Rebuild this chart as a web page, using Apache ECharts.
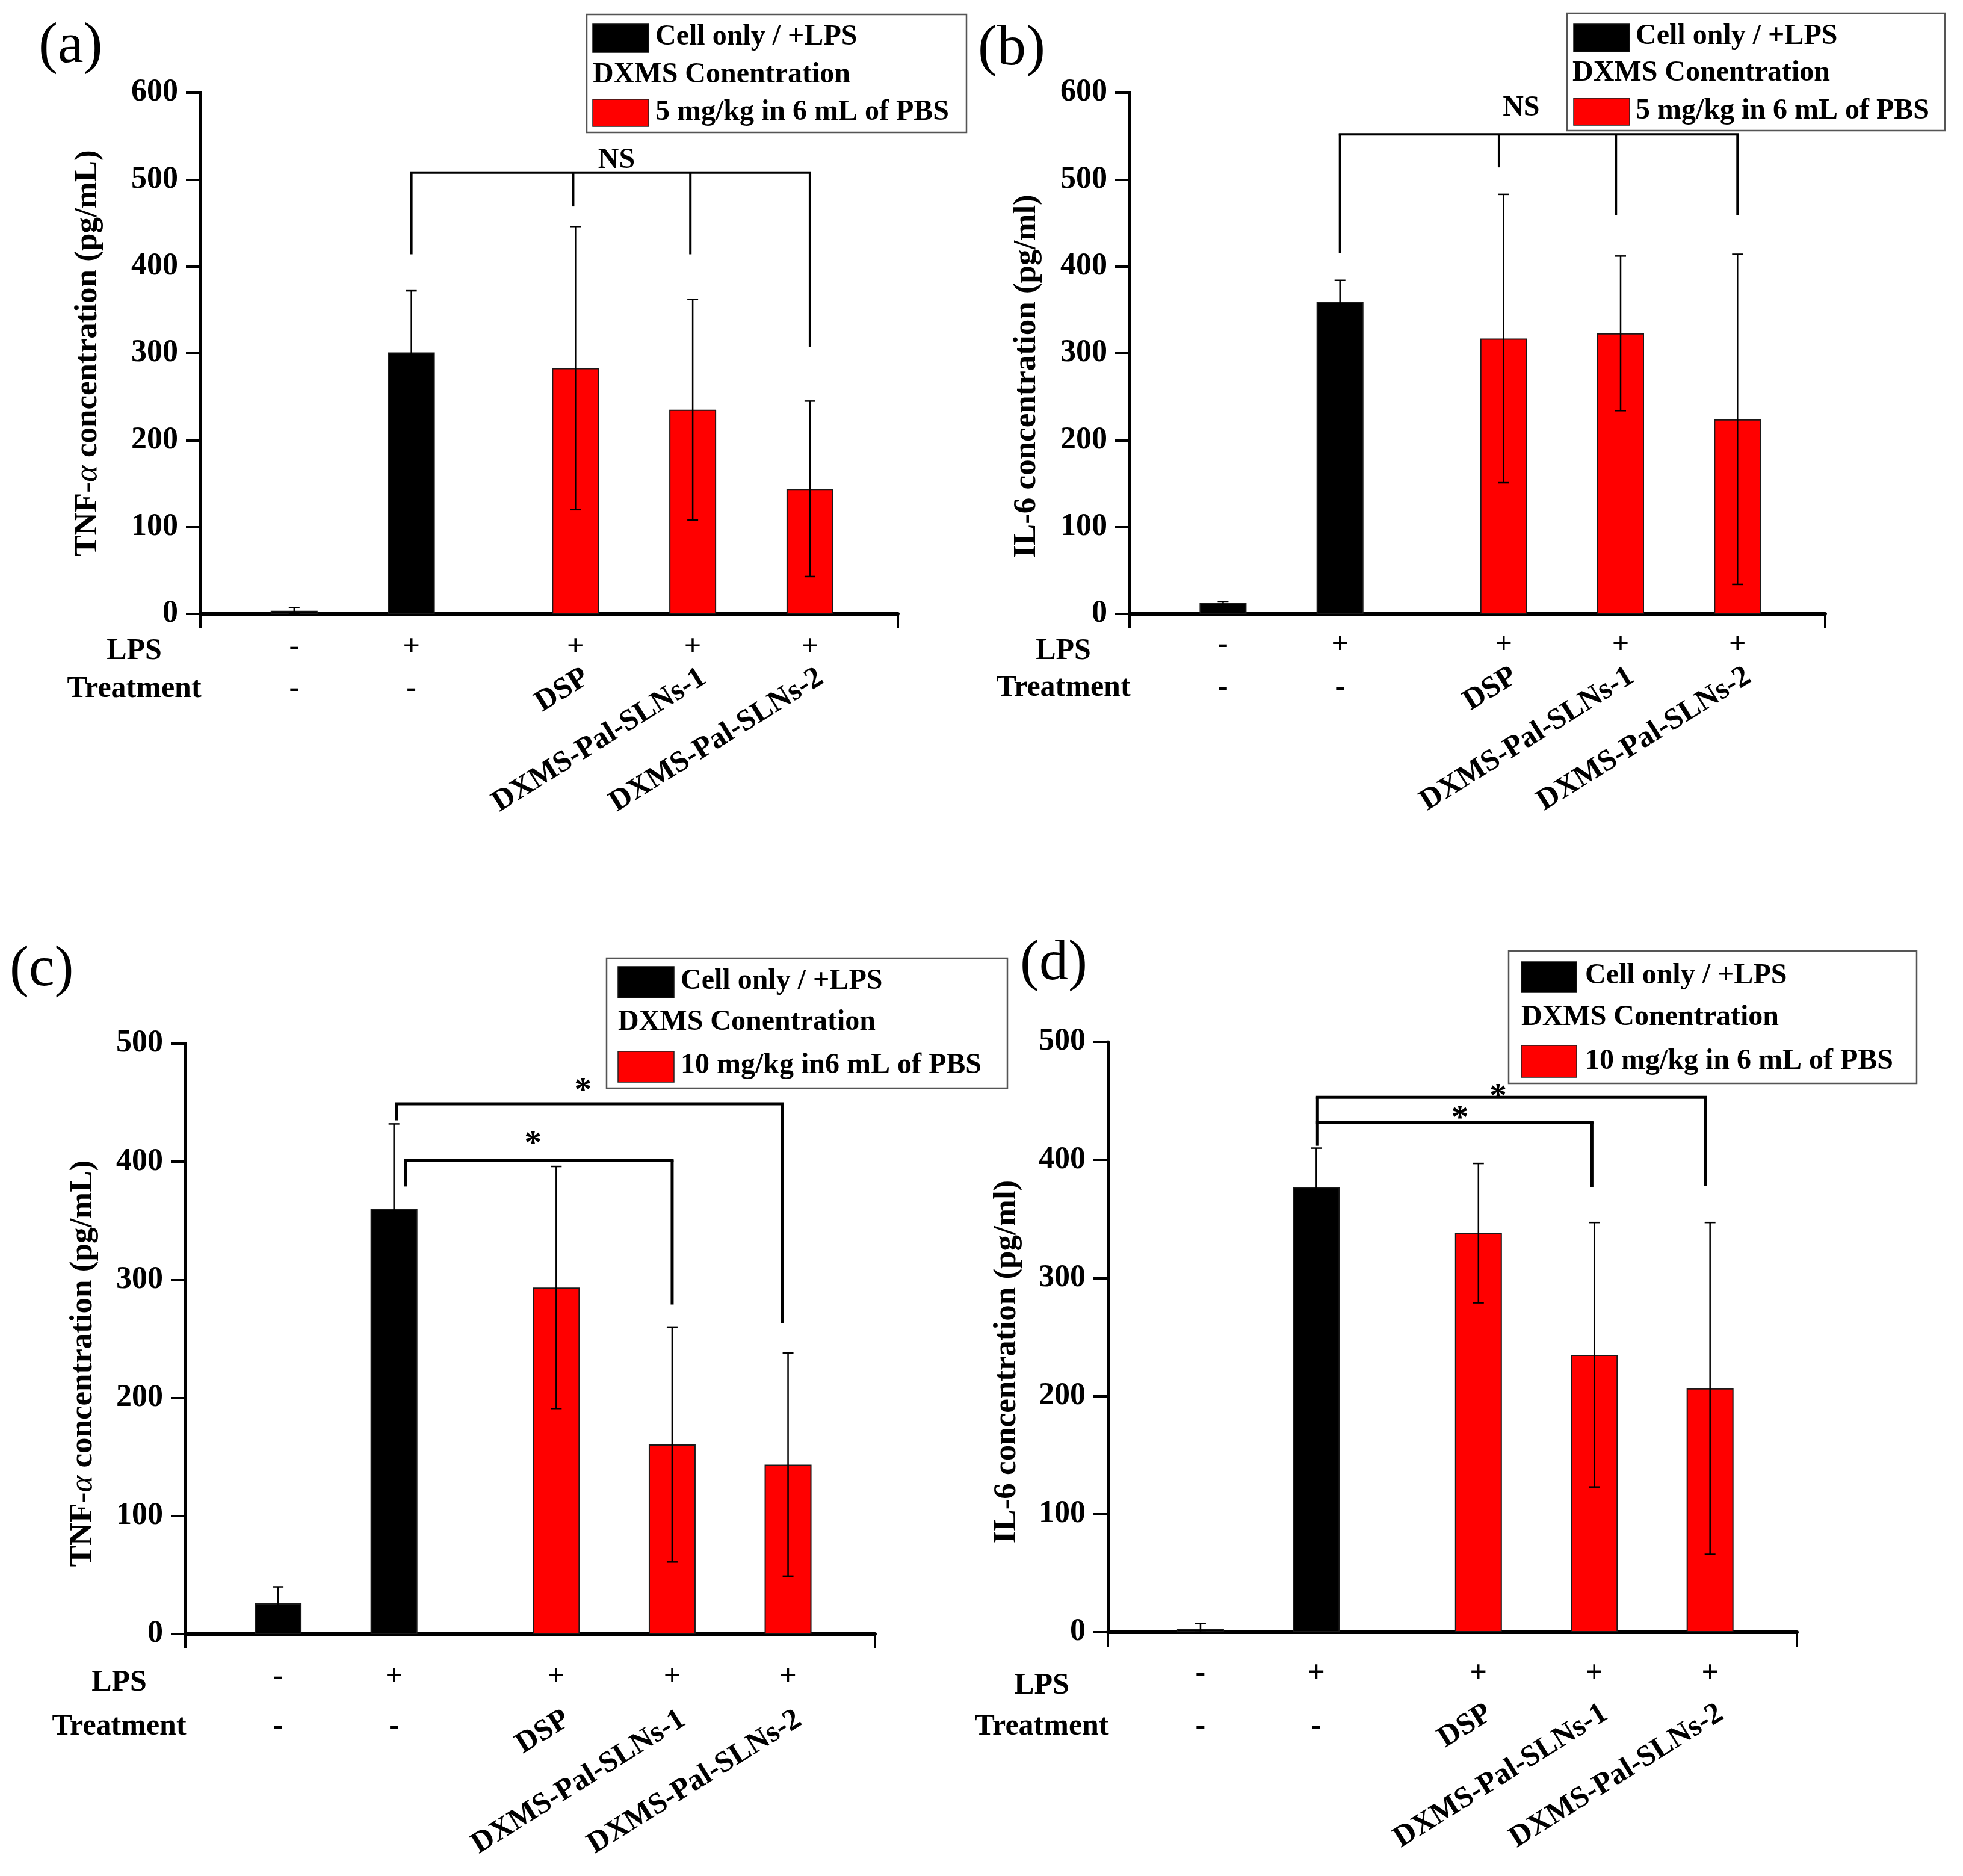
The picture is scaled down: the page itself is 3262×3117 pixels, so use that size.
<!DOCTYPE html>
<html>
<head>
<meta charset="utf-8">
<script src="https://cdn.jsdelivr.net/npm/echarts@6.0.0/dist/echarts.min.js"></script>
<style>
html,body{margin:0;padding:0;background:#fff;}
#chart{width:3262px;height:3117px;}
</style>
</head>
<body>
<div id="chart"></div>
<script>
// ---------------- DATA ----------------
const categories = ['Cell only', '+LPS', 'DSP', 'DXMS-Pal-SLNs-1', 'DXMS-Pal-SLNs-2'];
const xPositions = [1, 2, 3.4, 4.4, 5.4];
const barGroup = [0, 0, 1, 1, 1];            // 0 = Cell only / +LPS, 1 = DXMS treated
const lpsSigns = ['-', '+', '+', '+', '+'];
const treatmentLabels = ['-', '-', 'DSP', 'DXMS-Pal-SLNs-1', 'DXMS-Pal-SLNs-2'];
const yTicks600 = [0, 100, 200, 300, 400, 500, 600];
const yTicks500 = [0, 100, 200, 300, 400, 500];

// (a) TNF-alpha, 5 mg/kg
const tnf5Values = [3.7, 301, 283, 235, 144];
const tnf5Errors = [3.4, 71, 163, 127, 101];
const tnf5BracketLines = [[2, 5.4, 508]];
const tnf5BracketDrops = [[2, 508, 414], [3.38, 508, 469], [4.38, 508, 414], [5.4, 508, 307]];
const tnf5SigLabels = [[3.75, 522, 'NS']];

// (b) IL-6, 5 mg/kg
const il6of5Values = [12.4, 359, 317, 323, 224];
const il6of5Errors = [1.5, 25, 166, 89, 190];
const il6of5BracketLines = [[2, 5.4, 552]];
const il6of5BracketDrops = [[2, 552, 415], [3.36, 552, 514], [4.36, 552, 459], [5.4, 552, 459]];
const il6of5SigLabels = [[3.55, 582, 'NS']];

// (c) TNF-alpha, 10 mg/kg
const tnf10Values = [26, 360, 293.5, 160.5, 143.5];
const tnf10Errors = [14, 72, 102.5, 99.5, 94.5];
const tnf10BracketLines = [[2.02, 5.35, 449], [2.1, 4.4, 401]];
const tnf10BracketDrops = [[2.02, 449, 435], [5.35, 449, 263], [2.1, 401, 379], [4.4, 401, 279]];
const tnf10SigLabels = [[3.63, 465, '*'], [3.2, 420, '*']];

// (d) IL-6, 10 mg/kg
const il6of10Values = [2.5, 377, 338, 235, 206.5];
const il6of10Errors = [5, 33, 59, 112, 140.5];
const il6of10BracketLines = [[2.01, 5.36, 453], [2.01, 4.38, 432]];
const il6of10BracketDrops = [[2.01, 453, 412], [5.36, 453, 378], [4.38, 432, 377]];
const il6of10SigLabels = [[3.57, 458, '*'], [3.24, 440, '*']];

const legendTexts5 = ['Cell only / +LPS', 'DXMS Conentration', '5 mg/kg in 6 mL of PBS'];
const legendTexts10c = ['Cell only / +LPS', 'DXMS Conentration', '10 mg/kg in6 mL of PBS'];
const legendTexts10d = ['Cell only / +LPS', 'DXMS Conentration', '10 mg/kg in 6 mL of PBS'];
const yTitles = ['TNF-{a|α} concentration (pg/mL)', 'IL-6 concentration (pg/ml)',
                 'TNF-{a|α} concentration (pg/mL)', 'IL-6 concentration (pg/ml)'];
const panelLetters = ['(a)', '(b)', '(c)', '(d)'];

// ---------------- LAYOUT / STYLE ----------------
const FONT = '"Liberation Serif", "Times New Roman", serif';
const X_MIN = 0.2, X_MAX = 6.15;
const panels = [
  { letter: [64, 30], grid: {left: 333, top: 154, width: 1159, height: 866}, ticks: yTicks600,
    values: tnf5Values, errors: tnf5Errors, lines: tnf5BracketLines, drops: tnf5BracketDrops, sig: tnf5SigLabels,
    nameGap: 160, nameShift: 0, rows: {sign: 56, title: 62, treat: 125, rotDx: 18, rotDy: 102},
    legend: {box: [975, 24, 631, 196], r1: [985, 40, 93, 47], t1: [1089, 62], t2: [985, 125], r2: [985, 165, 93, 45], t3: [1089, 187]},
    legendTexts: legendTexts5, bracketWidth: 4 },
  { letter: [1625, 34], grid: {left: 1877, top: 154, width: 1156, height: 866}, ticks: yTicks600,
    values: il6of5Values, errors: il6of5Errors, lines: il6of5BracketLines, drops: il6of5BracketDrops, sig: il6of5SigLabels,
    nameGap: 144, nameShift: 38, rows: {sign: 52, title: 62, treat: 123, rotDx: 18, rotDy: 100},
    legend: {box: [2604, 22, 628, 195], r1: [2615, 40, 93, 46], t1: [2718, 61], t2: [2613, 122], r2: [2615, 163, 93, 45], t3: [2718, 185]},
    legendTexts: legendTexts5, bracketWidth: 4 },
  { letter: [16, 1564], grid: {left: 308, top: 1734, width: 1146, height: 981}, ticks: yTicks500,
    values: tnf10Values, errors: tnf10Errors, lines: tnf10BracketLines, drops: tnf10BracketDrops, sig: tnf10SigLabels,
    nameGap: 143, nameShift: 41, rows: {sign: 72, title: 81, treat: 154, rotDx: 18, rotDy: 138},
    legend: {box: [1008, 1592, 666, 216], r1: [1027, 1606, 93, 52], t1: [1131, 1631], t2: [1027, 1699], r2: [1027, 1747, 93, 51], t3: [1131, 1771]},
    legendTexts: legendTexts10c, bracketWidth: 5 },
  { letter: [1695, 1554], grid: {left: 1841, top: 1731, width: 1145, height: 981}, ticks: yTicks500,
    values: il6of10Values, errors: il6of10Errors, lines: il6of10BracketLines, drops: il6of10BracketDrops, sig: il6of10SigLabels,
    nameGap: 141, nameShift: 41, rows: {sign: 69, title: 89, treat: 157, rotDx: 18, rotDy: 131},
    legend: {box: [2507, 1580, 678, 220], r1: [2528, 1598, 92, 51], t1: [2634, 1622], t2: [2528, 1691], r2: [2528, 1737, 92, 53], t3: [2634, 1764]},
    legendTexts: legendTexts10d, bracketWidth: 5 }
];
const BAR_COLORS = ['#000000', '#ff0000'];

// ---------------- OPTION ----------------
const grids = [], xAxes = [], yAxes = [], series = [], graphics = [];

panels.forEach((p, k) => {
  grids.push(Object.assign({outerBoundsMode: 'none', containLabel: false}, p.grid));
  xAxes.push({
    type: 'value', gridIndex: k, min: X_MIN, max: X_MAX,
    axisLine: {show: true, onZero: false, lineStyle: {color: '#000', width: 6}},
    axisTick: {show: true, inside: false, length: 24, lineStyle: {color: '#000', width: 4}, customValues: [X_MIN, X_MAX]},
    axisLabel: {show: false}, splitLine: {show: false}
  });
  const ymax = p.ticks[p.ticks.length - 1];
  yAxes.push({
    type: 'value', gridIndex: k, min: p.ticks[0], max: ymax, interval: p.ticks[1] - p.ticks[0],
    name: yTitles[k], nameLocation: 'middle', nameRotate: 90, nameGap: p.nameGap,
    nameTextStyle: {fontFamily: FONT, fontWeight: 'bold', fontSize: 53, color: '#000',
      padding: [0, p.nameShift * 2, 0, 0],
      rich: {a: {fontFamily: FONT, fontWeight: 'normal', fontStyle: 'italic', fontSize: 53, color: '#000'}}},
    axisLine: {show: true, lineStyle: {color: '#000', width: 5}},
    axisTick: {show: true, inside: false, length: 24, lineStyle: {color: '#000', width: 4}},
    axisLabel: {show: true, margin: 37, fontFamily: FONT, fontWeight: 'bold', fontSize: 52, color: '#000'},
    splitLine: {show: false}
  });

  // bars
  series.push({
    type: 'bar', xAxisIndex: k, yAxisIndex: k, barWidth: 78, z: 2,
    itemStyle: {borderColor: '#1a1a1a', borderWidth: 2},
    data: xPositions.map((x, i) => ({name: categories[i], value: [x, p.values[i]],
      itemStyle: {color: BAR_COLORS[barGroup[i]]}}))
  });

  // error bars
  series.push({
    type: 'custom', xAxisIndex: k, yAxisIndex: k, z: 5, clip: false,
    data: xPositions.map((x, i) => [x, p.values[i], p.errors[i]]),
    renderItem: (params, api) => {
      const x = api.value(0), v = api.value(1), e = api.value(2);
      const t = api.coord([x, v + e]);
      const b = api.coord([x, Math.max(0, v - e)]);
      const hw = 9, st = {stroke: '#000', lineWidth: 2.5};
      return {type: 'group', children: [
        {type: 'line', shape: {x1: t[0], y1: t[1], x2: b[0], y2: b[1]}, style: st},
        {type: 'line', shape: {x1: t[0] - hw, y1: t[1], x2: t[0] + hw, y2: t[1]}, style: st},
        {type: 'line', shape: {x1: b[0] - hw, y1: b[1], x2: b[0] + hw, y2: b[1]}, style: st}
      ]};
    }
  });

  // significance bracket horizontal lines
  series.push({
    type: 'custom', xAxisIndex: k, yAxisIndex: k, z: 6, clip: false,
    data: p.lines,
    renderItem: (params, api) => {
      const a = api.coord([api.value(0), api.value(2)]);
      const b = api.coord([api.value(1), api.value(2)]);
      return {type: 'line', shape: {x1: a[0], y1: a[1], x2: b[0], y2: b[1]},
        style: {stroke: '#000', lineWidth: p.bracketWidth, lineCap: 'square'}};
    }
  });
  // bracket drops
  series.push({
    type: 'custom', xAxisIndex: k, yAxisIndex: k, z: 6, clip: false,
    data: p.drops,
    renderItem: (params, api) => {
      const a = api.coord([api.value(0), api.value(1)]);
      const b = api.coord([api.value(0), api.value(2)]);
      return {type: 'line', shape: {x1: a[0], y1: a[1], x2: b[0], y2: b[1]},
        style: {stroke: '#000', lineWidth: p.bracketWidth}};
    }
  });
  // significance labels
  series.push({
    type: 'custom', xAxisIndex: k, yAxisIndex: k, z: 7, clip: false,
    data: p.sig,
    renderItem: (params, api) => {
      const txt = p.sig[params.dataIndex][2];
      const c = api.coord([api.value(0), api.value(1)]);
      const isStar = txt === '*';
      const fs = isStar ? 58 : 48;
      return {type: 'text', x: c[0], y: c[1] + (isStar ? 0.19 * fs : 0),
        style: {text: txt, fontFamily: FONT, fontWeight: 'bold', fontSize: fs, fill: '#000',
          align: 'center', verticalAlign: 'middle'}};
    }
  });
  // category labels (LPS / Treatment rows)
  series.push({
    type: 'custom', xAxisIndex: k, yAxisIndex: k, z: 7, clip: false,
    data: xPositions.map((x, i) => [x, 0]),
    renderItem: (params, api) => {
      const i = params.dataIndex;
      const c = api.coord([api.value(0), 0]);
      const r = p.rows;
      const base = {fontFamily: FONT, fontWeight: 'bold', fontSize: 50, fill: '#000', verticalAlign: 'middle'};
      const kids = [];
      kids.push({type: 'text', x: c[0], y: c[1] + r.sign,
        style: Object.assign({text: lpsSigns[i], align: 'center'}, base)});
      const t = treatmentLabels[i];
      if (t === '-') {
        kids.push({type: 'text', x: c[0], y: c[1] + r.treat,
          style: Object.assign({text: t, align: 'center'}, base)});
      } else {
        kids.push({type: 'text', x: c[0] + r.rotDx, y: c[1] + r.rotDy, rotation: 32 * Math.PI / 180,
          style: Object.assign({text: t, align: 'right'}, base)});
      }
      if (i === 0) {
        const o = api.coord([X_MIN, 0]);
        kids.push({type: 'text', x: o[0] - 110, y: o[1] + r.title,
          style: Object.assign({text: 'LPS', align: 'center'}, base)});
        kids.push({type: 'text', x: o[0] - 110, y: o[1] + r.treat,
          style: Object.assign({text: 'Treatment', align: 'center'}, base)});
      }
      return {type: 'group', children: kids};
    }
  });

  // legend (drawn as graphic)
  const L = p.legend;
  const lt = {fontFamily: FONT, fontWeight: 'bold', fontSize: 48, fill: '#000', verticalAlign: 'middle', align: 'left'};
  graphics.push({type: 'rect', shape: {x: L.box[0], y: L.box[1], width: L.box[2], height: L.box[3]},
    style: {fill: '#fff', stroke: '#555', lineWidth: 2.5}, z: 10});
  graphics.push({type: 'rect', shape: {x: L.r1[0], y: L.r1[1], width: L.r1[2], height: L.r1[3]},
    style: {fill: BAR_COLORS[0], stroke: '#111', lineWidth: 1.5}, z: 11});
  graphics.push({type: 'rect', shape: {x: L.r2[0], y: L.r2[1], width: L.r2[2], height: L.r2[3]},
    style: {fill: BAR_COLORS[1], stroke: '#222', lineWidth: 1.5}, z: 11});
  graphics.push({type: 'text', x: L.t1[0], y: L.t1[1], style: Object.assign({text: p.legendTexts[0]}, lt), z: 11});
  graphics.push({type: 'text', x: L.t2[0], y: L.t2[1], style: Object.assign({text: p.legendTexts[1]}, lt), z: 11});
  graphics.push({type: 'text', x: L.t3[0], y: L.t3[1], style: Object.assign({text: p.legendTexts[2]}, lt), z: 11});
  // panel letter
  graphics.push({type: 'text', x: p.letter[0], y: p.letter[1],
    style: {text: panelLetters[k], fontFamily: FONT, fontSize: 96, fill: '#000', align: 'left', verticalAlign: 'top'}, z: 11});
});

const chart = echarts.init(document.getElementById('chart'), null, {renderer: 'canvas'});
chart.setOption({
  animation: false,
  backgroundColor: '#ffffff',
  grid: grids, xAxis: xAxes, yAxis: yAxes, series: series, graphic: graphics
});
</script>
</body>
</html>
